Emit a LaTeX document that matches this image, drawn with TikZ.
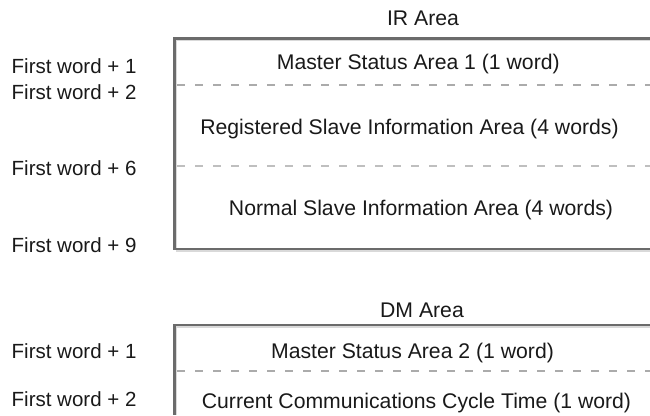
\documentclass[tikz,border=0pt]{standalone}
\usepackage{fontspec}
\setmainfont{Liberation Sans}
\begin{document}
\begin{tikzpicture}[x=1pt,y=-1pt,
  txt/.style={font=\fontsize{20.5}{24}\selectfont, text=black!90, inner sep=0pt},
  lbl/.style={txt, anchor=base west},
  ctr/.style={txt, anchor=base, font=\fontsize{21.2}{25}\selectfont},
  frame/.style={draw=black!58, line width=2.2pt},
  shadow/.style={draw=black!15, line width=1.5pt},
  sep/.style={draw=black!33, line width=2pt, dash pattern=on 8pt off 10pt},
  septhick/.style={draw=black!25, line width=2.8pt, dash pattern=on 8pt off 10pt}]
\useasboundingbox (0,0) rectangle (650,415);
% IR area frame
\draw[shadow] (650,40.5) -- (176.5,40.5) -- (176.5,251) -- (650,251);
\draw[frame] (650,38.5) -- (174.5,38.5) -- (174.5,249) -- (650,249);
\draw[sep] (177,85) -- (650,85);
\draw[septhick] (177,166) -- (650,166);
% DM area frame
\draw[shadow] (650,327) -- (176.5,327) -- (176.5,415);
\draw[frame] (650,325) -- (174.5,325) -- (174.5,415);
\draw[sep] (177,370.5) -- (650,370.5);
% titles
\node[ctr] (irt) at (423,25) {IR Area};
\node[ctr] (dmt) at (422,317) {DM Area};
% IR contents
\node[ctr] (ms1) at (418.3,69.5) {Master Status Area 1 (1 word)};
\node[ctr] (rsi) at (409.5,134.5) {Registered Slave Information Area (4 words)};
\node[ctr] (nsi) at (421,215) {Normal Slave Information Area (4 words)};
% DM contents
\node[ctr] (ms2) at (412.5,358.5) {Master Status Area 2 (1 word)};
\node[ctr] (cct) at (416.5,408) {Current Communications Cycle Time (1 word)};
% left labels
\node[lbl] (f1) at (11.5,73) {First word + 1};
\node[lbl] (f2) at (11.5,99) {First word + 2};
\node[lbl] (f6) at (11.5,175) {First word + 6};
\node[lbl] (f9) at (11.5,252) {First word + 9};
\node[lbl] (d1) at (11.5,358) {First word + 1};
\node[lbl] (d2) at (11.5,406) {First word + 2};
\end{tikzpicture}
\end{document}
